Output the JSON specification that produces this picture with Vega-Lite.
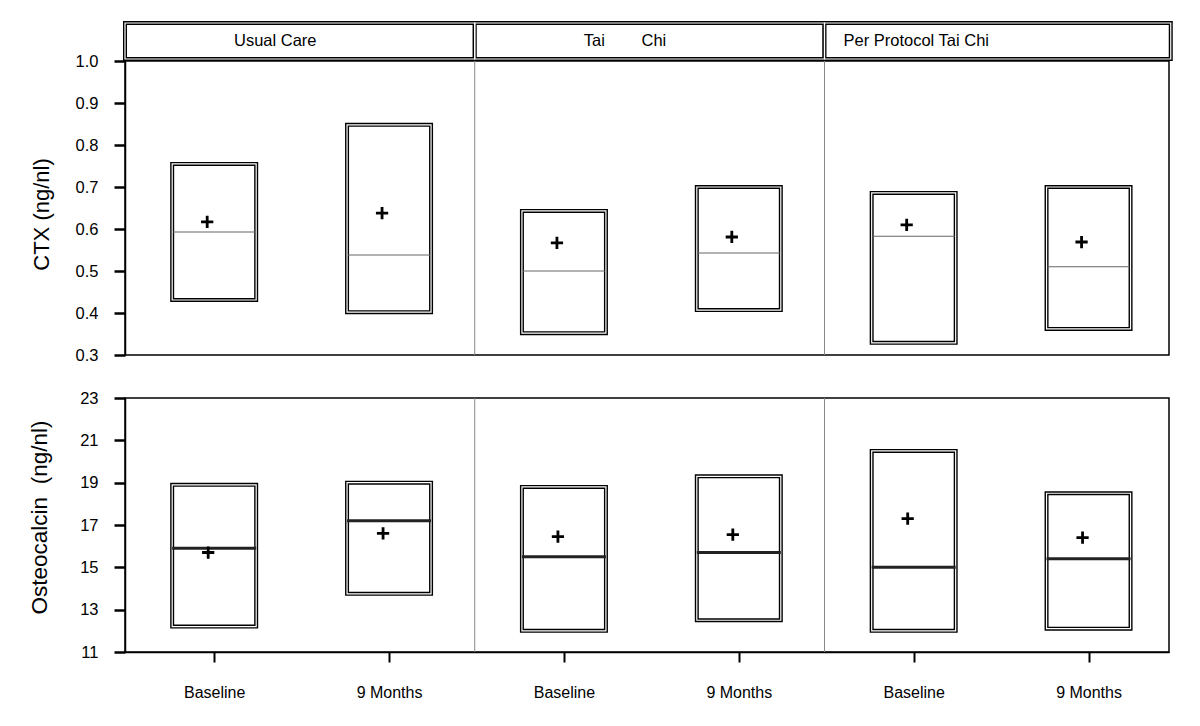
{
  "$schema": "https://vega.github.io/schema/vega-lite/v6.json",
  "background": "white",
  "padding": {"left": 27, "top": 21, "right": 25, "bottom": 10},
  "config": {
    "font": "Liberation Sans",
    "view": {"stroke": "black", "strokeWidth": 1.5},
    "scale": {"continuousPadding": 0},
    "axis": {"grid": false, "domainColor": "black", "tickColor": "black", "labelColor": "black", "titleColor": "black", "titleFontWeight": "normal"}
  },
  "datasets": {
    "groups": [
      {"group": "Usual Care", "label": "Usual Care", "lo": 0.49, "hi": 2.49},
      {"group": "Tai Chi", "label": "Tai\u00a0\u00a0\u00a0\u00a0\u00a0\u00a0\u00a0\u00a0Chi", "lo": 2.49, "hi": 4.49},
      {"group": "Per Protocol Tai Chi", "label": "Per Protocol Tai Chi", "lo": 4.49, "hi": 6.47}
    ],
    "dividers": [{"x": 2.49}, {"x": 4.49}],
    "ctx": [
      {"group": "Usual Care", "time": "Baseline", "pos": 1, "q1": 0.431, "q3": 0.755, "median": 0.593, "mean": 0.617},
      {"group": "Usual Care", "time": "9 Months", "pos": 2, "q1": 0.402, "q3": 0.848, "median": 0.538, "mean": 0.638},
      {"group": "Tai Chi", "time": "Baseline", "pos": 3, "q1": 0.352, "q3": 0.643, "median": 0.5, "mean": 0.567},
      {"group": "Tai Chi", "time": "9 Months", "pos": 4, "q1": 0.407, "q3": 0.7, "median": 0.543, "mean": 0.581},
      {"group": "Per Protocol Tai Chi", "time": "Baseline", "pos": 5, "q1": 0.329, "q3": 0.686, "median": 0.583, "mean": 0.61},
      {"group": "Per Protocol Tai Chi", "time": "9 Months", "pos": 6, "q1": 0.362, "q3": 0.7, "median": 0.51, "mean": 0.569}
    ],
    "osteo": [
      {"group": "Usual Care", "time": "Baseline", "pos": 1, "q1": 12.2, "q3": 18.9, "median": 15.9, "mean": 15.7},
      {"group": "Usual Care", "time": "9 Months", "pos": 2, "q1": 13.75, "q3": 19.0, "median": 17.2, "mean": 16.6},
      {"group": "Tai Chi", "time": "Baseline", "pos": 3, "q1": 12.0, "q3": 18.8, "median": 15.5, "mean": 16.45},
      {"group": "Tai Chi", "time": "9 Months", "pos": 4, "q1": 12.5, "q3": 19.3, "median": 15.7, "mean": 16.55},
      {"group": "Per Protocol Tai Chi", "time": "Baseline", "pos": 5, "q1": 12.0, "q3": 20.5, "median": 15.0, "mean": 17.3},
      {"group": "Per Protocol Tai Chi", "time": "9 Months", "pos": 6, "q1": 12.1, "q3": 18.5, "median": 15.4, "mean": 16.4}
    ]
  },
  "spacing": 24,
  "vconcat": [
    {
      "spacing": 2,
      "bounds": "flush",
      "vconcat": [
        {
          "width": 1044,
          "height": 36,
          "view": {"stroke": null},
          "data": {"name": "groups"},
          "layer": [
            {
              "mark": {"type": "rect", "fill": "white", "stroke": "black", "strokeWidth": 4},
              "encoding": {
                "x": {"field": "lo", "type": "quantitative", "scale": {"domain": [0.49, 6.46], "nice": false, "zero": false}, "axis": null},
                "x2": {"field": "hi"},
                "y": {"datum": 0, "type": "quantitative", "scale": {"domain": [0, 1], "nice": false}, "axis": null},
                "y2": {"datum": 1}
              }
            },
            {
              "mark": {"type": "rect", "fill": null, "stroke": "white", "strokeWidth": 1.2},
              "encoding": {
                "x": {"field": "lo", "type": "quantitative"},
                "x2": {"field": "hi"},
                "y": {"datum": 0, "type": "quantitative"},
                "y2": {"datum": 1}
              }
            },
            {
              "transform": [{"filter": "datum.group === 'Usual Care'"}],
              "mark": {"type": "text", "align": "left", "baseline": "middle", "fontSize": 16.5, "dx": 109},
              "encoding": {"x": {"field": "lo", "type": "quantitative"}, "y": {"datum": 0.5, "type": "quantitative"}, "text": {"field": "label"}}
            },
            {
              "transform": [{"filter": "datum.group === 'Tai Chi'"}],
              "mark": {"type": "text", "align": "left", "baseline": "middle", "fontSize": 16.5, "dx": 109},
              "encoding": {"x": {"field": "lo", "type": "quantitative"}, "y": {"datum": 0.5, "type": "quantitative"}, "text": {"field": "label"}}
            },
            {
              "transform": [{"filter": "datum.group === 'Per Protocol Tai Chi'"}],
              "mark": {"type": "text", "align": "left", "baseline": "middle", "fontSize": 16.5, "dx": 19},
              "encoding": {"x": {"field": "lo", "type": "quantitative"}, "y": {"datum": 0.5, "type": "quantitative"}, "text": {"field": "label"}}
            }
          ]
        },
        {
          "width": 1044,
          "height": 294,
          "layer": [
            {
              "data": {"name": "dividers"},
              "mark": {"type": "rule", "color": "#888888", "strokeWidth": 1},
              "encoding": {
                "x": {"field": "x", "type": "quantitative", "scale": {"domain": [0.49, 6.46], "nice": false, "zero": false, "padding": 0}, "axis": null}
              }
            },
            {
              "data": {"name": "ctx"},
              "mark": {"type": "bar", "width": 84, "fill": "white", "stroke": "black", "strokeWidth": 4},
              "encoding": {
                "x": {"field": "pos", "type": "quantitative"},
                "y": {"field": "q1", "type": "quantitative", "scale": {"domain": [0.3, 1.0], "nice": false, "zero": false},
                  "axis": {"title": "CTX (ng/nl)", "titleFontSize": 22, "titlePadding": 22, "titleY": 153, "values": [0.3, 0.4, 0.5, 0.6, 0.7, 0.8, 0.9, 1.0], "format": ".1f", "labelFontSize": 16.5, "labelPadding": 16, "tickSize": 11, "tickWidth": 2.5, "domainWidth": 1.5}},
                "y2": {"field": "q3"}
              }
            },
            {
              "data": {"name": "ctx"},
              "mark": {"type": "bar", "width": 84, "fill": null, "stroke": "white", "strokeWidth": 1.2},
              "encoding": {
                "x": {"field": "pos", "type": "quantitative"},
                "y": {"field": "q1", "type": "quantitative"},
                "y2": {"field": "q3"}
              }
            },
            {
              "data": {"name": "ctx"},
              "mark": {"type": "tick", "orient": "horizontal", "size": 82, "thickness": 1, "color": "#666666", "opacity": 1},
              "encoding": {
                "x": {"field": "pos", "type": "quantitative"},
                "y": {"field": "median", "type": "quantitative"}
              }
            },
            {
              "data": {"name": "ctx"},
              "mark": {"type": "point", "shape": "M-1,0L1,0M0,-1L0,1", "size": 150, "filled": false, "stroke": "black", "strokeWidth": 2.8, "opacity": 1},
              "encoding": {
                "x": {"field": "pos", "type": "quantitative"},
                "xOffset": {"value": -7},
                "y": {"field": "mean", "type": "quantitative"}
              }
            }
          ]
        }
      ]
    },
    {
      "width": 1044,
      "height": 254,
      "layer": [
        {
          "data": {"name": "dividers"},
          "mark": {"type": "rule", "color": "#888888", "strokeWidth": 1},
          "encoding": {
            "x": {"field": "x", "type": "quantitative", "scale": {"domain": [0.49, 6.46], "nice": false, "zero": false, "padding": 0},
              "axis": {"title": null, "values": [1, 2, 3, 4, 5, 6], "labelExpr": "datum.value % 2 == 1 ? 'Baseline' : '9 Months'", "labelFontSize": 16, "labelPadding": 22, "tickSize": 10, "tickWidth": 2, "domainWidth": 1.5}}
          }
        },
        {
          "data": {"name": "osteo"},
          "mark": {"type": "bar", "width": 84, "fill": "white", "stroke": "black", "strokeWidth": 4},
          "encoding": {
            "x": {"field": "pos", "type": "quantitative"},
            "y": {"field": "q1", "type": "quantitative", "scale": {"domain": [11, 23], "nice": false, "zero": false},
              "axis": {"title": "Osteocalcin\u00a0\u00a0(ng/nl)", "titleFontSize": 22.5, "titlePadding": 28, "titleY": 119, "values": [11, 12, 13, 14, 15, 16, 17, 18, 19, 20, 21, 22, 23], "labelExpr": "datum.value % 2 == 1 ? datum.label : ''", "labelFontSize": 16.5, "labelPadding": 16, "tickSize": 11, "tickWidth": 2.5, "domainWidth": 1.5}},
            "y2": {"field": "q3"}
          }
        },
        {
          "data": {"name": "osteo"},
          "mark": {"type": "bar", "width": 84, "fill": null, "stroke": "white", "strokeWidth": 1.2},
          "encoding": {
            "x": {"field": "pos", "type": "quantitative"},
            "y": {"field": "q1", "type": "quantitative"},
            "y2": {"field": "q3"}
          }
        },
        {
          "data": {"name": "osteo"},
          "mark": {"type": "tick", "orient": "horizontal", "size": 84, "thickness": 3, "color": "#222222", "opacity": 1},
          "encoding": {
            "x": {"field": "pos", "type": "quantitative"},
            "y": {"field": "median", "type": "quantitative"}
          }
        },
        {
          "data": {"name": "osteo"},
          "mark": {"type": "point", "shape": "M-1,0L1,0M0,-1L0,1", "size": 150, "filled": false, "stroke": "black", "strokeWidth": 2.8, "opacity": 1},
          "encoding": {
            "x": {"field": "pos", "type": "quantitative"},
            "xOffset": {"value": -6},
            "y": {"field": "mean", "type": "quantitative"}
          }
        }
      ]
    }
  ]
}
